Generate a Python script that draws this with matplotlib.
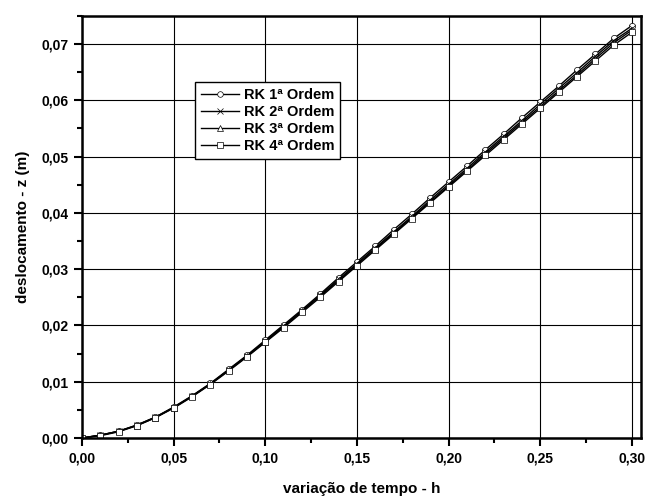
import numpy as np
import matplotlib
matplotlib.use("Agg")
import matplotlib.pyplot as plt
from matplotlib.ticker import MultipleLocator, FuncFormatter

plt.rcParams['font.family'] = ['Liberation Sans', 'DejaVu Sans']
plt.rcParams['font.weight'] = 'bold'

# time steps h
h = [0.00, 0.01, 0.02, 0.03, 0.04, 0.05, 0.06, 0.07, 0.08, 0.09, 0.10,
     0.11, 0.12, 0.13, 0.14, 0.15, 0.16, 0.17, 0.18, 0.19, 0.20,
     0.21, 0.22, 0.23, 0.24, 0.25, 0.26, 0.27, 0.28, 0.29, 0.30]

# displacement z (m) per method
rk1 = [0.0000, 0.0005, 0.0012, 0.0023, 0.0037, 0.0055, 0.0075, 0.0097, 0.0122, 0.0147, 0.0174,
       0.0201, 0.0228, 0.0256, 0.0285, 0.0313, 0.0341, 0.0370, 0.0398, 0.0427, 0.0455,
       0.0483, 0.0512, 0.0540, 0.0569, 0.0597, 0.0625, 0.0654, 0.0682, 0.0710, 0.0733]
rk2 = [0.0000, 0.0005, 0.0012, 0.0023, 0.0037, 0.0054, 0.0074, 0.0096, 0.0121, 0.0146, 0.0172,
       0.0199, 0.0226, 0.0254, 0.0282, 0.0310, 0.0338, 0.0366, 0.0394, 0.0423, 0.0451,
       0.0479, 0.0508, 0.0536, 0.0564, 0.0593, 0.0621, 0.0649, 0.0678, 0.0706, 0.0728]
rk3 = [0.0000, 0.0005, 0.0012, 0.0022, 0.0036, 0.0054, 0.0074, 0.0096, 0.0120, 0.0145, 0.0171,
       0.0198, 0.0225, 0.0252, 0.0280, 0.0308, 0.0336, 0.0364, 0.0392, 0.0420, 0.0448,
       0.0476, 0.0505, 0.0533, 0.0561, 0.0589, 0.0617, 0.0645, 0.0674, 0.0702, 0.0725]
rk4 = [0.0000, 0.0004, 0.0011, 0.0022, 0.0036, 0.0053, 0.0073, 0.0095, 0.0119, 0.0144, 0.0170,
       0.0196, 0.0223, 0.0250, 0.0278, 0.0306, 0.0334, 0.0362, 0.0390, 0.0418, 0.0446,
       0.0474, 0.0502, 0.0530, 0.0558, 0.0586, 0.0614, 0.0642, 0.0670, 0.0698, 0.0721]

series = [(rk1, 'o', 'RK 1ª Ordem'),
          (rk2, 'x', 'RK 2ª Ordem'),
          (rk3, '^', 'RK 3ª Ordem'),
          (rk4, 's', 'RK 4ª Ordem')]

fig = plt.figure(figsize=(6.45, 4.98), dpi=100)
ax = fig.add_axes([0.127, 0.1205, 0.867, 0.8475])

for y, m, lab in series:
    ax.plot(h, y, color='black', linewidth=1.0, marker=m, markersize=4.5,
            markerfacecolor='white', markeredgecolor='black', markeredgewidth=0.5,
            label=lab)

ax.set_xlim(0, 0.305)
ax.set_ylim(0, 0.075)
ax.xaxis.set_major_locator(MultipleLocator(0.05))
ax.xaxis.set_minor_locator(MultipleLocator(0.025))
ax.yaxis.set_major_locator(MultipleLocator(0.01))
ax.yaxis.set_minor_locator(MultipleLocator(0.005))

comma = FuncFormatter(lambda v, p: f"{v:.2f}".replace('.', ','))
ax.xaxis.set_major_formatter(comma)
ax.yaxis.set_major_formatter(comma)

ax.grid(True, which='major', color='black', linewidth=0.8)
ax.tick_params(which='major', direction='out', length=6, width=1.5, labelsize=10)
ax.tick_params(which='minor', direction='out', length=3.5, width=1.5)
for s in ax.spines.values():
    s.set_linewidth(1.8)

ax.set_xlabel('variação de tempo - h', fontsize=11, fontweight='bold', labelpad=12)
ax.set_ylabel('deslocamento - z (m)', fontsize=11, fontweight='bold', labelpad=8)

leg = ax.legend(loc='upper left', bbox_to_anchor=(0.19, 0.86), fontsize=10.5,
                frameon=True, fancybox=False, edgecolor='black', framealpha=1.0,
                handlelength=2.6, handletextpad=0.3, borderpad=0.4,
                labelspacing=0.2, markerscale=0.9)
leg.get_frame().set_linewidth(1.0)

fig.savefig('out.png', dpi=100)
